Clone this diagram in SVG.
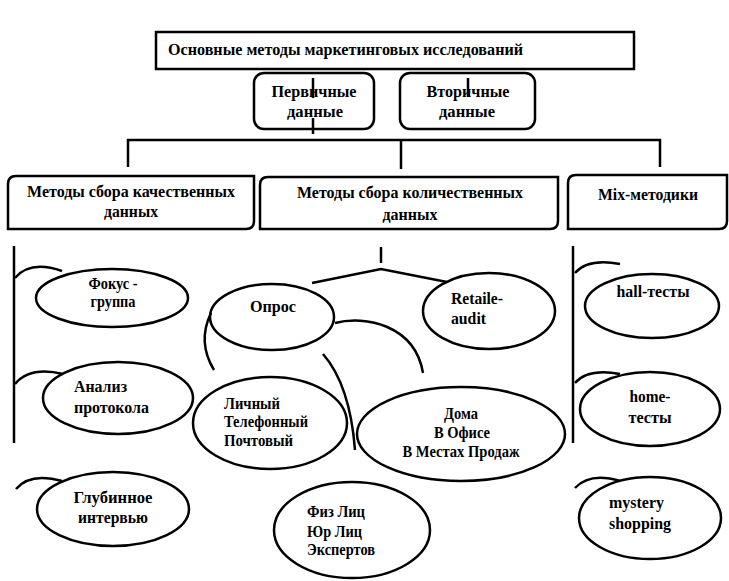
<svg xmlns="http://www.w3.org/2000/svg" width="729" height="581" viewBox="0 0 729 581">
<style>
.b{fill:#fff;stroke:#000;stroke-width:2.5}
.e{fill:#fff;stroke:#000;stroke-width:2.5}
.c{fill:none;stroke:#000;stroke-width:2.5}
text{font-family:"Liberation Serif","Times New Roman",serif;font-weight:bold;fill:#000}
.t{font-size:17px}
.s{font-size:16.5px}
.m{text-anchor:middle}
</style>
<rect width="729" height="581" fill="#fff"/>
<g id="title">
<rect class="b" x="156" y="32" width="478" height="37"/>
<text class="t" x="168" y="55" textLength="355" lengthAdjust="spacingAndGlyphs">Основные методы маркетинговых исследований</text>
</g>
<g id="primary">
<rect class="b" x="254" y="73" width="120" height="56" rx="10"/>
<text class="t m" x="314" y="97" textLength="85" lengthAdjust="spacingAndGlyphs">Первичные</text>
<text class="t m" x="315" y="117" textLength="56" lengthAdjust="spacingAndGlyphs">данные</text>
</g>
<g id="secondary">
<rect class="b" x="400" y="73" width="135" height="56" rx="10"/>
<text class="t m" x="468" y="97" textLength="83" lengthAdjust="spacingAndGlyphs">Вторичные</text>
<text class="t m" x="467" y="117" textLength="56" lengthAdjust="spacingAndGlyphs">данные</text>
</g>
<g id="qual">
<path class="b" d="M16,176 H254 V221 Q254,229 246,229 H8 V184 Q8,176 16,176 Z"/>
<text class="t" x="27" y="197" textLength="208" lengthAdjust="spacingAndGlyphs">Методы сбора качественных</text>
<text class="t m" x="131" y="217" textLength="54" lengthAdjust="spacingAndGlyphs">данных</text>
</g>
<g id="quant">
<path class="b" d="M268,177 H558 V221 Q558,229 550,229 H260 V185 Q260,177 268,177 Z"/>
<text class="t" x="297" y="198" textLength="226" lengthAdjust="spacingAndGlyphs">Методы сбора количественных</text>
<text class="t m" x="410" y="220" textLength="55" lengthAdjust="spacingAndGlyphs">данных</text>
</g>
<g id="mix">
<path class="b" d="M576,175 H727 V221 Q727,229 719,229 H568 V183 Q568,175 576,175 Z"/>
<text class="t" x="598" y="200" textLength="100" lengthAdjust="spacingAndGlyphs">Mix-методики</text>
</g>
<g id="focus">
<ellipse class="e" cx="112" cy="298" rx="76" ry="29"/>
<text class="s m" x="113" y="289" textLength="49" lengthAdjust="spacingAndGlyphs">Фокус -</text>
<text class="s m" x="113" y="307" textLength="45" lengthAdjust="spacingAndGlyphs">группа</text>
</g>
<g id="protocol">
<ellipse class="e" cx="118" cy="398" rx="75" ry="36"/>
<text class="s" x="74" y="392" textLength="53" lengthAdjust="spacingAndGlyphs">Анализ</text>
<text class="s" x="74" y="413" textLength="75" lengthAdjust="spacingAndGlyphs">протокола</text>
</g>
<g id="depth">
<ellipse class="e" cx="113" cy="509" rx="76" ry="37"/>
<text class="s m" x="113" y="503" textLength="79" lengthAdjust="spacingAndGlyphs">Глубинное</text>
<text class="s m" x="113" y="523" textLength="70" lengthAdjust="spacingAndGlyphs">интервью</text>
</g>
<g id="survey">
<ellipse class="e" cx="272" cy="317" rx="62" ry="33"/>
<text class="s m" x="273" y="312" textLength="46" lengthAdjust="spacingAndGlyphs">Опрос</text>
</g>
<g id="channels">
<ellipse class="e" cx="270" cy="423" rx="77" ry="46"/>
<text class="s" x="224" y="409" textLength="56" lengthAdjust="spacingAndGlyphs">Личный</text>
<text class="s" x="224" y="427" textLength="84" lengthAdjust="spacingAndGlyphs">Телефонный</text>
<text class="s" x="224" y="446" textLength="69" lengthAdjust="spacingAndGlyphs">Почтовый</text>
</g>
<g id="respondents">
<ellipse class="e" cx="352" cy="530" rx="78" ry="48"/>
<text class="s" x="307" y="517" textLength="58" lengthAdjust="spacingAndGlyphs">Физ Лиц</text>
<text class="s" x="307" y="537" textLength="55" lengthAdjust="spacingAndGlyphs">Юр Лиц</text>
<text class="s" x="307" y="555" textLength="68" lengthAdjust="spacingAndGlyphs">Экспертов</text>
</g>
<g id="retail">
<ellipse class="e" cx="489" cy="311" rx="66" ry="38"/>
<text class="s" x="451" y="304" textLength="52" lengthAdjust="spacingAndGlyphs">Retaile-</text>
<text class="s" x="451" y="324" textLength="35" lengthAdjust="spacingAndGlyphs">audit</text>
</g>
<g id="places">
<ellipse class="e" cx="461" cy="434" rx="104" ry="47"/>
<text class="s m" x="461" y="419" textLength="34" lengthAdjust="spacingAndGlyphs">Дома</text>
<text class="s m" x="462" y="438" textLength="56" lengthAdjust="spacingAndGlyphs">В Офисе</text>
<text class="s m" x="461" y="457" textLength="117" lengthAdjust="spacingAndGlyphs">В Местах Продаж</text>
</g>
<g id="hall">
<ellipse class="e" cx="652" cy="306" rx="67" ry="32"/>
<text class="s m" x="653" y="297" textLength="73" lengthAdjust="spacingAndGlyphs">hall-тесты</text>
</g>
<g id="home">
<ellipse class="e" cx="650" cy="409" rx="70" ry="37"/>
<text class="s m" x="650" y="402" textLength="41" lengthAdjust="spacingAndGlyphs">home-</text>
<text class="s m" x="650" y="423" textLength="43" lengthAdjust="spacingAndGlyphs">тесты</text>
</g>
<g id="mystery">
<ellipse class="e" cx="650" cy="518" rx="71" ry="41"/>
<text class="s" x="609" y="508" textLength="55" lengthAdjust="spacingAndGlyphs">mystery</text>
<text class="s" x="609" y="529" textLength="62" lengthAdjust="spacingAndGlyphs">shopping</text>
</g>
<g id="connectors">
<line class="c" x1="313" y1="78" x2="313" y2="98"/>
<line class="c" x1="313" y1="118" x2="313" y2="134"/>
<line class="c" x1="468" y1="78" x2="468" y2="97"/>
<polyline class="c" points="128,167 128,140 660,140 660,167"/>
<line class="c" x1="401" y1="140" x2="401" y2="169"/>
<line class="c" x1="14" y1="246" x2="14" y2="443"/>
<line class="c" x1="573" y1="246" x2="573" y2="443"/>
<path class="c" d="M15,278 Q30,260 62,271"/>
<path class="c" d="M15,384 Q30,366 63,374"/>
<path class="c" d="M16,489 Q30,472 62,481"/>
<path class="c" d="M575,273 Q588,258 620,264"/>
<path class="c" d="M575,383 Q588,368 620,374"/>
<path class="c" d="M575,488 Q590,472 620,481"/>
<line class="c" x1="381" y1="247" x2="381" y2="263"/>
<polyline class="c" points="312,283 381,269 447,282"/>
<path class="c" d="M211,313 Q197,342 214,370"/>
<path class="c" d="M323,354 Q350,385 355,450"/>
<path class="c" d="M335,323 C365,315 415,325 423,373"/>
</g>
</svg>
